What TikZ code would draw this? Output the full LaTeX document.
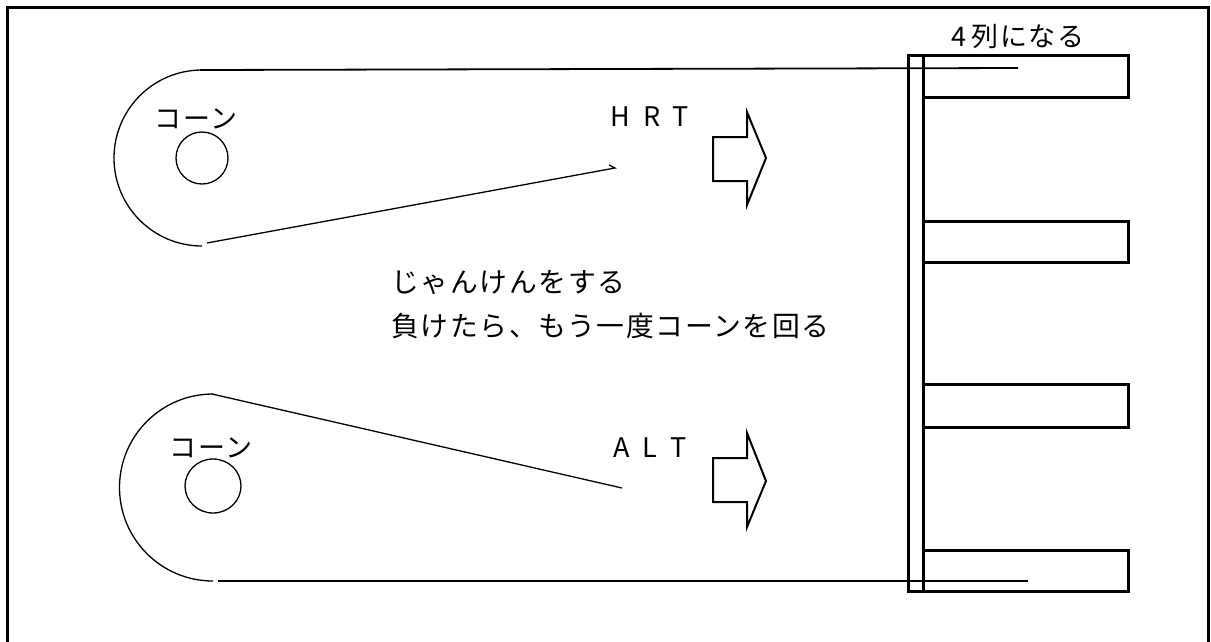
\documentclass[tikz,border=0pt]{standalone}
\usepackage{fontspec}
\usetikzlibrary{shapes.geometric}
\newfontfamily\jp[LetterSpace=6]{Noto Sans CJK JP}
\begin{document}
\begin{tikzpicture}[x=1pt,y=-1pt,
  thin line/.style={line width=1.3pt},
  mid line/.style={line width=1.8pt},
  thick line/.style={line width=3pt},
  lbl/.style={font=\jp\fontsize{27}{32}\selectfont, inner sep=0pt},
  biglbl/.style={font=\jp\fontsize{27.8}{32}\selectfont, inner sep=0pt},
  blockarrow/.style={line width=2pt, line join=miter}]
\useasboundingbox (0,0) rectangle (1211,641);
% frame
\draw[thick line] (7,645) -- (7,7) -- (1208,7) -- (1208,645);

% upper loop
\coordinate (ua) at (200,70);
\coordinate (uend) at (1018,68);
\coordinate (utip) at (615,168);
\draw[thin line] (202,70) arc[start angle=-90, end angle=-270, radius=88];
\draw[mid line] (ua) -- (uend);
\draw[thin line] (207,243) -- (utip) -- (609,165);
\node[draw, thin line, circle, minimum size=52pt, inner sep=0pt] (c1) at (202,158) {};
\node[lbl] (t1) at (196,119) {コーン};

% lower loop
\coordinate (la) at (212,394);
\coordinate (lend) at (1028,581);
\coordinate (ltip) at (622,488);
\draw[thin line] (213,394) arc[start angle=-90, end angle=-270, radius=93.5];
\draw[thin line] (la) -- (ltip);
\draw[mid line] (218,581) -- (lend);
\node[draw, thin line, ellipse, minimum width=56pt, minimum height=54pt, inner sep=0pt] (c2) at (213,486) {};
\node[lbl] (t2) at (211,448) {コーン};

% labels
\node[lbl] (hrt) at (650,117) {H\hspace{5pt} R\hspace{5pt} T};
\node[lbl] (alt) at (650,448) {A\hspace{5pt} L\hspace{5pt} T};
\node[biglbl, anchor=west] (mid1) at (391,282) {じゃんけんをする};
\node[biglbl, anchor=west] (mid2) at (391,326) {負けたら、もう一度コーンを回る};
\node[lbl] (four) at (1018,37) {4\hspace{5pt}列になる};

% block arrows
\draw[blockarrow] (713,137) -- (747,137) -- (747,112) -- (766,158) -- (747,205) -- (747,181) -- (713,181) -- cycle;
\draw[blockarrow] (713,458) -- (747,458) -- (747,433) -- (766,481) -- (747,527) -- (747,502) -- (713,502) -- cycle;

% right structure
\draw[thick line] (908,55) rectangle (923,591);
\draw[thick line] (923,55) rectangle (1128,97);
\draw[thick line] (923,221) rectangle (1128,262);
\draw[thick line] (923,384) rectangle (1128,427);
\draw[thick line] (923,550) rectangle (1128,591);
\end{tikzpicture}
\end{document}
